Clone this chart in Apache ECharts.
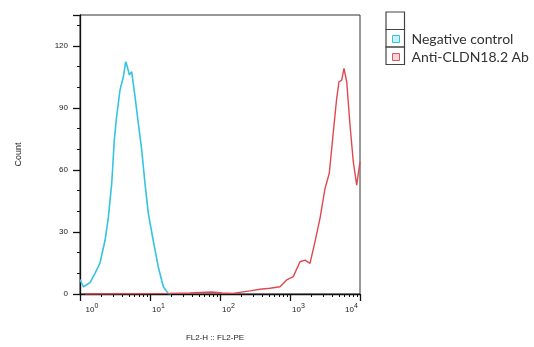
<!DOCTYPE html>
<html>
<head>
<meta charset="utf-8">
<script src="https://cdn.jsdelivr.net/npm/echarts@6/dist/echarts.min.js"></script>
<style>
  html, body { margin: 0; padding: 0; background: #fff; }
  #chart { width: 534px; height: 347px; }
</style>
</head>
<body>
<div id="chart"></div>
<script>
// FL2-PE intensity (x, log) and event count (y) for each histogram
const negName = 'Negative control';
const negX = [1.0, 1.12, 1.39, 1.64, 1.93, 2.28, 2.54, 2.84, 3.09, 3.34, 3.73, 3.94, 4.16, 4.5, 4.74, 5.06, 5.48, 5.77, 6.11, 6.81, 7.61, 8.48, 9.46, 11.1, 13.1, 15.5, 18.2, 20];
const negY = [7, 3.5, 5.5, 10, 15, 26, 37, 53.5, 74.5, 86, 98.7, 102, 105, 112.4, 110, 106, 107.5, 106.7, 95.5, 82.6, 69.7, 53.5, 39, 26, 13.2, 3.5, 0.3, 0];

const antiName = 'Anti-CLDN18.2 Ab';
const antiX = [1.18, 19.3, 37.3, 76.1, 107, 153, 268, 373, 518, 720, 897, 1114, 1179, 1389, 1638, 1931, 2276, 2683, 3162, 3640, 4073, 4645, 5012, 5479, 5908, 6457, 7197, 8018, 8975, 10000];
const antiY = [0, 0.3, 0.5, 1, 0.5, 0.3, 1.5, 2.3, 2.8, 3.5, 6.8, 8.4, 9.2, 15.6, 16.4, 14.8, 25.3, 36.6, 51, 58.4, 75.3, 94.7, 102.7, 103.5, 109.2, 102.7, 81.8, 64, 52.7, 64];

const decadeTicks = [1, 10, 100, 1000, 10000];
const minorTicks = [2,3,4,5,6,7,8,9, 20,30,40,50,60,70,80,90, 200,300,400,500,600,700,800,900, 2000,3000,4000,5000,6000,7000,8000,9000];

const negColor = '#35c3e0';
const antiColor = '#e0474f';

const pairs = (xs, ys) => xs.map((x, i) => [x, ys[i]]);

const chart = echarts.init(document.getElementById('chart'));

const logAxisBase = {
  type: 'log',
  logBase: 10,
  min: 1,
  max: 10000,
  gridIndex: 0,
  splitLine: {show: false},
  minorSplitLine: {show: false}
};

chart.setOption({
  animation: false,
  textStyle: {fontFamily: 'Liberation Sans, Arial, sans-serif'},
  grid: {
    left: 80, top: 15, width: 280, height: 279.5,
    show: true, borderColor: '#333', borderWidth: 1
  },
  legend: {
    orient: 'vertical',
    left: 392, top: 31,
    padding: 0,
    itemWidth: 7, itemHeight: 7, itemGap: 2,
    selectedMode: false,
    textStyle: {fontFamily: 'Lato', fontSize: 14, color: '#333', lineHeight: 16, padding: [0, 0, 0, 7]},
    data: [
      {name: negName, icon: 'rect', itemStyle: {color: '#c8f2f9', borderColor: negColor, borderWidth: 1}},
      {name: antiName, icon: 'rect', itemStyle: {color: '#f8d6d8', borderColor: '#d65a61', borderWidth: 1}}
    ]
  },
  graphic: [0, 1, 2].map(i => ({
    type: 'rect',
    shape: {x: 386, y: 12 + i * 17.5, width: 18.5, height: 17.5},
    style: {fill: 'none', stroke: '#444', lineWidth: 1.2},
    silent: true
  })),
  xAxis: [
    Object.assign({}, logAxisBase, {
      name: 'FL2-H :: FL2-PE',
      nameLocation: 'middle',
      nameGap: 40,
      nameTextStyle: {fontSize: 8, color: '#222', padding: [0, 10, 0, 0]},
      axisLine: {onZero: false, lineStyle: {color: '#111', width: 1.3}},
      axisTick: {show: true, length: 7, customValues: decadeTicks, lineStyle: {color: '#111', width: 1.3}},
      axisLabel: {
        customValues: decadeTicks,
        showMinLabel: true, showMaxLabel: true,
        margin: 9,
        align: 'center',
        formatter: v => {
          const e = Math.round(Math.log10(v));
          const b = e === 0 ? 'b0' : (e === 4 ? 'b4' : 'b');
          const s = e === 4 ? 's4' : 's';
          return '{' + b + '|10}{' + s + '|' + e + '}';
        },
        rich: {
          b0: {fontSize: 8, color: '#222', padding: [0, 0, 0, 24]},
          b: {fontSize: 8, color: '#222', padding: [0, 0, 0, 17]},
          b4: {fontSize: 8, color: '#222'},
          s: {fontSize: 7, color: '#222', padding: [0, 0, 6, 0]},
          s4: {fontSize: 7, color: '#222', padding: [0, 17, 6, 0]}
        }
      }
    }),
    Object.assign({}, logAxisBase, {
      position: 'bottom',
      axisLine: {show: false},
      axisTick: {show: true, length: 3, customValues: minorTicks, lineStyle: {color: '#111', width: 1}},
      axisLabel: {show: false}
    })
  ],
  yAxis: {
    type: 'value',
    min: 0,
    max: 135,
    interval: 30,
    name: 'Count',
    nameLocation: 'middle',
    nameGap: 57,
    nameRotate: 90,
    nameTextStyle: {fontSize: 9, color: '#222'},
    splitLine: {show: false},
    axisLine: {show: true, lineStyle: {color: '#111', width: 1.3}},
    axisTick: {show: true, length: 7, lineStyle: {color: '#111', width: 1.3}},
    minorTick: {show: true, splitNumber: 3, length: 3, lineStyle: {color: '#111', width: 1}},
    axisLabel: {fontSize: 8, color: '#222', margin: 12, showMaxLabel: false}
  },
  series: [
    {
      name: negName, type: 'line', xAxisIndex: 0,
      data: pairs(negX, negY),
      showSymbol: false, color: negColor,
      lineStyle: {color: negColor, width: 1.6}
    },
    {
      name: antiName, type: 'line', xAxisIndex: 0,
      data: pairs(antiX, antiY),
      showSymbol: false, color: antiColor,
      lineStyle: {color: antiColor, width: 1.4}
    }
  ]
});
</script>
</body>
</html>
